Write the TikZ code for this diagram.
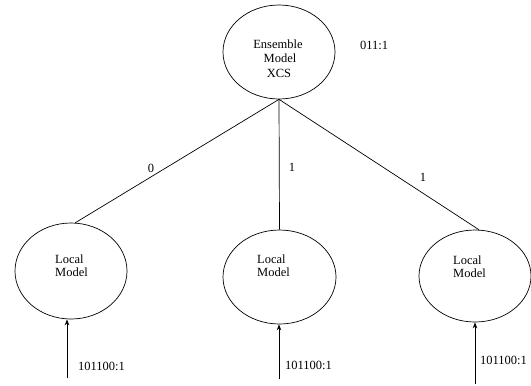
\documentclass[tikz,border=0pt]{standalone}
\usepackage{fontspec}
\setmainfont{Liberation Serif}
\usetikzlibrary{shapes.geometric,arrows.meta}
\begin{document}
\begin{tikzpicture}[x=1bp,y=-1bp,
  model/.style={draw,ellipse,inner sep=0pt,line width=0.7bp},
  lbl/.style={inner sep=0pt,font=\fontsize{12.5bp}{14bp}\selectfont},
  conn/.style={line width=0.7bp},
  inarrow/.style={line width=0.8bp,-{Stealth[length=6bp,width=4.5bp]}}]
\useasboundingbox (0,0) rectangle (531,385);
% ellipses
\node[model,minimum width=112bp,minimum height=94bp] (top) at (279,52) {};
\node[model,minimum width=112bp,minimum height=96bp] (left) at (71,271) {};
\node[model,minimum width=113bp,minimum height=94bp] (mid) at (279.5,277) {};
\node[model,minimum width=112bp,minimum height=92bp] (right) at (475,276) {};
% texts in ellipses
\node[lbl] (t1) at (278,44) {Ensemble};
\node[lbl] (t2) at (280,58) {Model};
\node[lbl] (t3) at (279,73) {XCS};
\node[lbl,anchor=west] (l1) at (55,259) {Local};
\node[lbl,anchor=west] (l2) at (55,272) {Model};
\node[lbl,anchor=west] (m1) at (257,259) {Local};
\node[lbl,anchor=west] (m2) at (257,272) {Model};
\node[lbl,anchor=west] (r1) at (453,260) {Local};
\node[lbl,anchor=west] (r2) at (453,273) {Model};
\node[lbl,anchor=west] (out) at (360,45) {011:1};
% connectors
\draw[conn] (top.south) -- (left.85);
\draw[conn] (top.south) -- (mid.north);
\draw[conn] (top.south) -- (right.85);
\node[lbl] (e0) at (151,168) {0};
\node[lbl] (e1) at (292,167) {1};
\node[lbl] (e2) at (423,177) {1};
% inputs
\coordinate (inL) at (67,378);
\coordinate (inM) at (279,379);
\coordinate (inR) at (475,384);
\draw[inarrow] (inL) -- (inL |- left.south);
\draw[inarrow] (inM) -- (inM |- mid.south);
\draw[inarrow] (inR) -- (inR |- right.south);
\node[lbl,anchor=west] (iL) at (78,366) {101100:1};
\node[lbl,anchor=west] (iM) at (285,365) {101100:1};
\node[lbl,anchor=west] (iR) at (480,360) {101100:1};
\end{tikzpicture}
\end{document}
